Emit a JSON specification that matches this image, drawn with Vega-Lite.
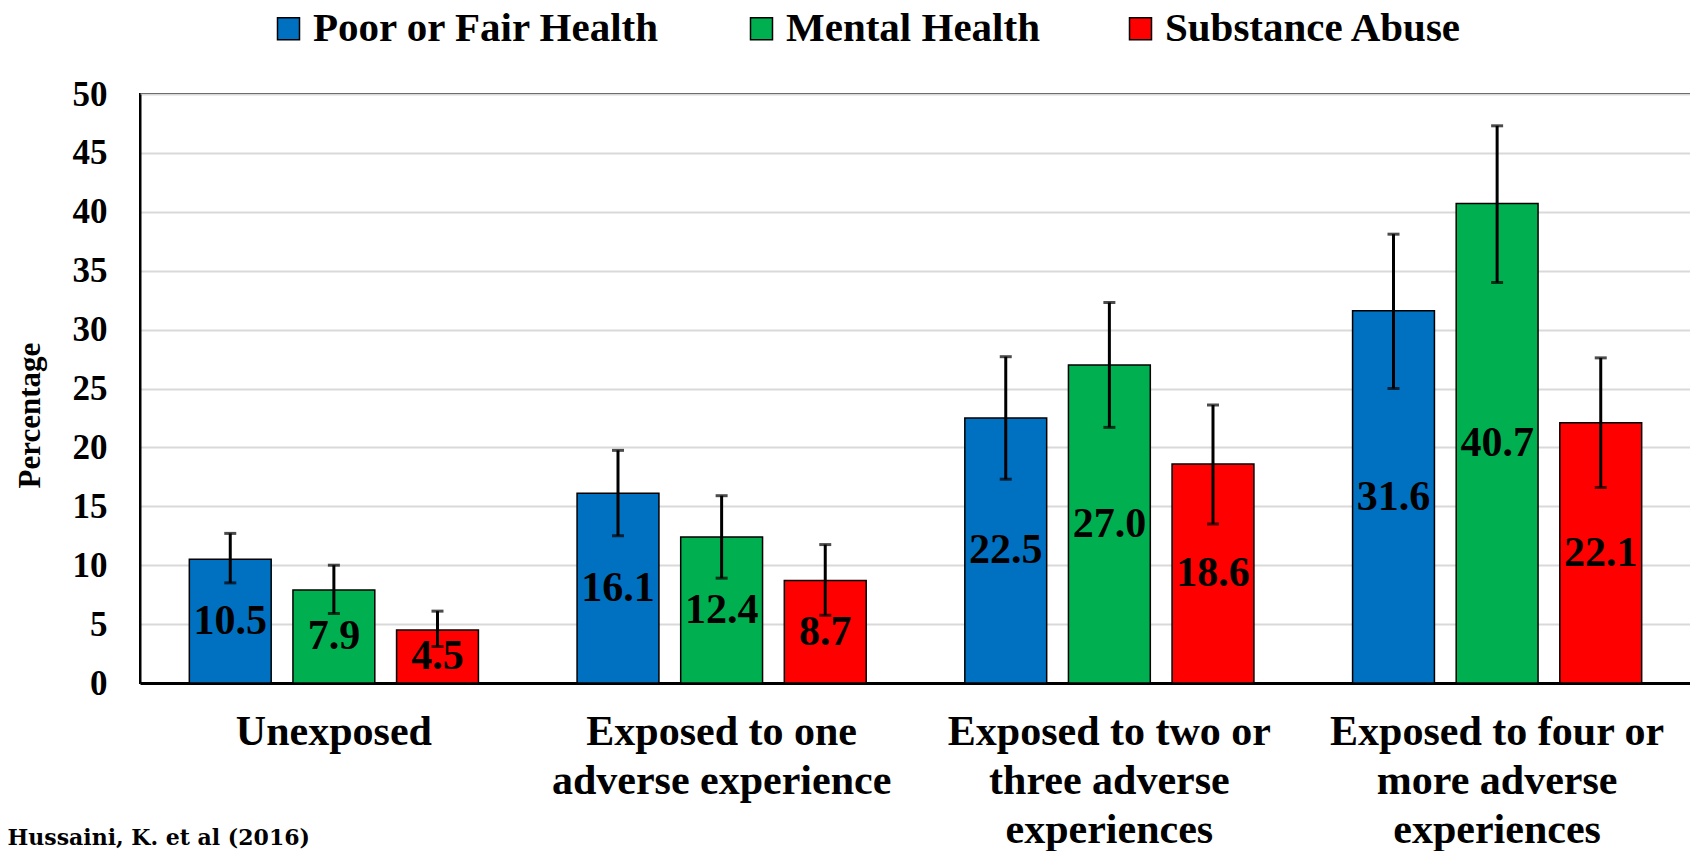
{
  "$schema": "https://vega.github.io/schema/vega-lite/v6.json",
  "autosize": {"type": "none"},
  "padding": {"left": 140, "top": 94, "right": 0, "bottom": 168},
  "width": 1551,
  "height": 589,
  "background": "white",
  "config": {
    "view": {"stroke": "black", "strokeWidth": 2},
    "font": "Liberation Serif"
  },
  "data": {
    "values": [
      {"category": "Unexposed", "series": "Poor or Fair Health", "value": 10.5, "lo": 8.5, "hi": 12.7},
      {"category": "Unexposed", "series": "Mental Health", "value": 7.9, "lo": 5.9, "hi": 10.0},
      {"category": "Unexposed", "series": "Substance Abuse", "value": 4.5, "lo": 3.1, "hi": 6.1},
      {"category": "Exposed to one adverse experience", "series": "Poor or Fair Health", "value": 16.1, "lo": 12.5, "hi": 19.75},
      {"category": "Exposed to one adverse experience", "series": "Mental Health", "value": 12.4, "lo": 8.9, "hi": 15.9},
      {"category": "Exposed to one adverse experience", "series": "Substance Abuse", "value": 8.7, "lo": 5.75, "hi": 11.75},
      {"category": "Exposed to two or three adverse experiences", "series": "Poor or Fair Health", "value": 22.5, "lo": 17.3, "hi": 27.7},
      {"category": "Exposed to two or three adverse experiences", "series": "Mental Health", "value": 27.0, "lo": 21.7, "hi": 32.3},
      {"category": "Exposed to two or three adverse experiences", "series": "Substance Abuse", "value": 18.6, "lo": 13.5, "hi": 23.6},
      {"category": "Exposed to four or more adverse experiences", "series": "Poor or Fair Health", "value": 31.6, "lo": 25.0, "hi": 38.1},
      {"category": "Exposed to four or more adverse experiences", "series": "Mental Health", "value": 40.7, "lo": 34.0, "hi": 47.3},
      {"category": "Exposed to four or more adverse experiences", "series": "Substance Abuse", "value": 22.1, "lo": 16.6, "hi": 27.6}
    ]
  },
  "encoding": {
    "x": {
      "field": "category",
      "type": "nominal",
      "sort": null,
      "scale": {"paddingInner": 0, "paddingOuter": 0},
      "axis": {
        "labelAngle": 0,
        "ticks": false,
        "domainColor": "black",
        "domainWidth": 3,
        "labelFont": "Liberation Serif",
        "labelFontWeight": "bold",
        "labelFontSize": 42,
        "labelColor": "black",
        "labelBaseline": "top",
        "labelPadding": 28,
        "labelLineHeight": 49,
        "labelLimit": 0,
        "labelExpr": "datum.value == 'Exposed to one adverse experience' ? ['Exposed to one', 'adverse experience'] : datum.value == 'Exposed to two or three adverse experiences' ? ['Exposed to two or', 'three adverse', 'experiences'] : datum.value == 'Exposed to four or more adverse experiences' ? ['Exposed to four or', 'more adverse', 'experiences'] : datum.value",
        "title": "Hussaini, K. et al (2016)",
        "titleFont": "DejaVu Serif",
        "titleFontWeight": "bold",
        "titleFontSize": 22,
        "titleColor": "black",
        "titleAlign": "left",
        "titleBaseline": "alphabetic",
        "titleX": -133,
        "titleY": 161
      }
    },
    "xOffset": {
      "field": "series",
      "type": "nominal",
      "sort": ["Poor or Fair Health", "Mental Health", "Substance Abuse"],
      "scale": {"paddingInner": 0.21, "paddingOuter": 0.476}
    }
  },
  "layer": [
    {
      "layer": [
        {
          "mark": {"type": "bar", "stroke": "black", "strokeWidth": 1.5},
          "encoding": {
            "y": {
              "field": "value",
              "type": "quantitative",
              "scale": {"domain": [0, 50], "nice": false},
              "axis": {
                "values": [0, 5, 10, 15, 20, 25, 30, 35, 40, 45, 50],
                "ticks": false,
                "domainColor": "black",
                "domainWidth": 2,
                "gridColor": "#d9d9d9",
                "gridWidth": 2,
                "labelFont": "Liberation Serif",
                "labelFontWeight": "bold",
                "labelFontSize": 35,
                "labelColor": "black",
                "labelPadding": 33,
                "title": "Percentage",
                "titleFont": "Liberation Serif",
                "titleFontWeight": "bold",
                "titleFontSize": 31,
                "titleColor": "black",
                "titlePadding": 26,
                "titleY": 321
              }
            },
            "color": {
              "field": "series",
              "type": "nominal",
              "scale": {
                "domain": ["Poor or Fair Health", "Mental Health", "Substance Abuse"],
                "range": ["#0070c0", "#00b050", "#ff0000"]
              },
              "legend": {
                "title": null,
                "orient": "none",
                "direction": "horizontal",
                "legendX": 128,
                "legendY": -86,
                "symbolType": "square",
                "symbolSize": 484,
                "symbolStrokeColor": "black",
                "symbolStrokeWidth": 1.5,
                "symbolOpacity": 1,
                "labelFont": "Liberation Serif",
                "labelFontWeight": "bold",
                "labelFontSize": 41,
                "labelColor": "black",
                "labelOffset": 4,
                "labelLimit": 0,
                "columnPadding": 80
              }
            }
          }
        },
        {
          "mark": {"type": "rule", "color": "black", "strokeWidth": 3},
          "encoding": {
            "y": {"field": "lo", "type": "quantitative"},
            "y2": {"field": "hi"}
          }
        },
        {
          "mark": {"type": "tick", "color": "black", "thickness": 3, "size": 12, "orient": "horizontal"},
          "encoding": {
            "y": {"field": "lo", "type": "quantitative"}
          }
        },
        {
          "mark": {"type": "tick", "color": "black", "thickness": 3, "size": 12, "orient": "horizontal"},
          "encoding": {
            "y": {"field": "hi", "type": "quantitative"}
          }
        }
      ]
    },
    {
      "mark": {"type": "text", "font": "Liberation Serif", "fontWeight": "bold", "fontSize": 42, "color": "black", "baseline": "middle", "align": "center"},
      "encoding": {
        "y": {
          "field": "value",
          "type": "quantitative",
          "scale": {"domain": [0, 100], "nice": false},
          "axis": null
        },
        "text": {"field": "value", "type": "quantitative", "format": ".1f"}
      }
    }
  ],
  "resolve": {"scale": {"y": "independent"}}
}
